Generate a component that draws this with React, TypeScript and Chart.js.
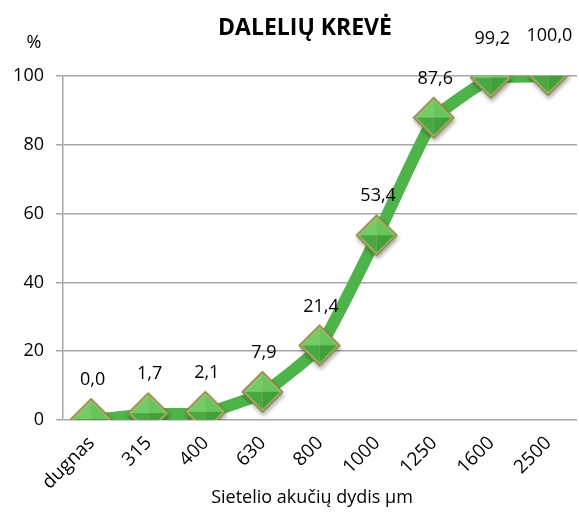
import React, { useEffect, useRef } from "react";
import { Chart, registerables } from "chart.js";

Chart.register(...registerables);

const categories = ["dugnas", "315", "400", "630", "800", "1000", "1250", "1600", "2500"];
const values = [0.0, 1.7, 2.1, 7.9, 21.4, 53.4, 87.6, 99.2, 100.0];
const yTicks = [0, 20, 40, 60, 80, 100];
const titleText = "DALELIŲ KREVĖ";
const yUnit = "%";
const xTitle = "Sietelio akučių dydis µm";

function makeMarker(): HTMLCanvasElement {
  const s = 60;
  const c = document.createElement("canvas");
  c.width = s;
  c.height = s;
  const ctx = c.getContext("2d")!;
  const cx = 29.5, cy = 29, r = 21;
  const dia = (rr: number) => {
    ctx.beginPath();
    ctx.moveTo(cx, cy - rr);
    ctx.lineTo(cx + rr, cy);
    ctx.lineTo(cx, cy + rr);
    ctx.lineTo(cx - rr, cy);
    ctx.closePath();
  };
  ctx.save();
  ctx.shadowColor = "rgba(0,0,0,0.35)";
  ctx.shadowBlur = 4;
  ctx.shadowOffsetY = 3;
  ctx.shadowOffsetX = 1;
  dia(r);
  ctx.fillStyle = "#7d7d3a";
  ctx.fill();
  ctx.restore();
  dia(r);
  ctx.fillStyle = "#8a8a44";
  ctx.fill();
  dia(r - 2);
  ctx.fillStyle = "#b9b978";
  ctx.fill();
  const rf = r - 3.5;
  const face = (ax: number, ay: number, bx: number, by: number, col: string) => {
    ctx.beginPath();
    ctx.moveTo(cx, cy);
    ctx.lineTo(ax, ay);
    ctx.lineTo(bx, by);
    ctx.closePath();
    ctx.fillStyle = col;
    ctx.fill();
  };
  face(cx - rf, cy, cx, cy - rf, "#72cd66");
  face(cx, cy - rf, cx + rf, cy, "#68c55b");
  face(cx + rf, cy, cx, cy + rf, "#42a03b");
  face(cx, cy + rf, cx - rf, cy, "#4aa843");
  return c;
}

const fmt = (v: number) => v.toFixed(1).replace(".", ",");

export default function App() {
  const ref = useRef<HTMLCanvasElement | null>(null);
  useEffect(() => {
    document.body.style.margin = "0";
    const marker = makeMarker();
    const textPlugin = {
      id: "texts",
      afterDatasetsDraw(chart: any) {
        const ctx = chart.ctx;
        const meta = chart.getDatasetMeta(0);
        ctx.save();
        ctx.fillStyle = "#000";
        ctx.textAlign = "center";
        ctx.textBaseline = "middle";
        ctx.font = "18px 'Open Sans'";
        meta.data.forEach((pt: any, i: number) => {
          ctx.fillText(fmt(values[i]), pt.x + 1, pt.y - 40);
        });
        ctx.restore();
      },
      afterDraw(chart: any) {
        const ctx = chart.ctx;
        ctx.save();
        ctx.fillStyle = "#000";
        ctx.textAlign = "center";
        ctx.textBaseline = "middle";
        ctx.font = "bold 23px 'Open Sans'";
        ctx.fillText(titleText, 305, 28);
        ctx.font = "18px 'Open Sans'";
        ctx.fillText(yUnit, 34, 43);
        ctx.fillText(xTitle, 312, 498);
        ctx.restore();
      },
    };
    const chart = new Chart(ref.current!, {
      type: "line",
      data: {
        labels: categories,
        datasets: [
          {
            data: values,
            borderColor: "#4eb348",
            borderWidth: 12,
            tension: 0.15,
            pointStyle: marker as any,
            pointRadius: 21,
            pointHoverRadius: 21,
          },
        ],
      },
      options: {
        animation: false,
        responsive: false,
        maintainAspectRatio: false,
        layout: { autoPadding: false, padding: { top: 76, left: 0, right: 2, bottom: 0 } },
        plugins: { legend: { display: false }, tooltip: { enabled: false } },
        scales: {
          x: {
            type: "category",
            offset: true,
            grid: { display: false },
            border: { display: false },
            ticks: {
              minRotation: 45,
              maxRotation: 45,
              color: "#000",
              font: { family: "'Open Sans'", size: 19 },
              padding: 4,
            },
            afterFit: (s: any) => {
              s.height = 93;
              s.paddingLeft = 0;
              s.paddingRight = 0;
            },
          },
          y: {
            min: 0,
            max: 100,
            afterBuildTicks: (s: any) => {
              s.ticks = yTicks.map((v) => ({ value: v }));
            },
            grid: { color: "#a6a6a6", lineWidth: 1.5, tickLength: 7 },
            border: { display: true, color: "#a6a6a6", width: 1.5 },
            ticks: {
              color: "#000",
              font: { family: "'Open Sans'", size: 18 },
              padding: 12,
            },
            afterFit: (s: any) => {
              s.width = 63;
            },
          },
        },
      },
      plugins: [textPlugin],
    });
    return () => chart.destroy();
  }, []);
  return (
    <div style={{ width: 579, height: 513 }}>
      <canvas ref={ref} width={579} height={513} style={{ width: 579, height: 513 }} />
    </div>
  );
}
